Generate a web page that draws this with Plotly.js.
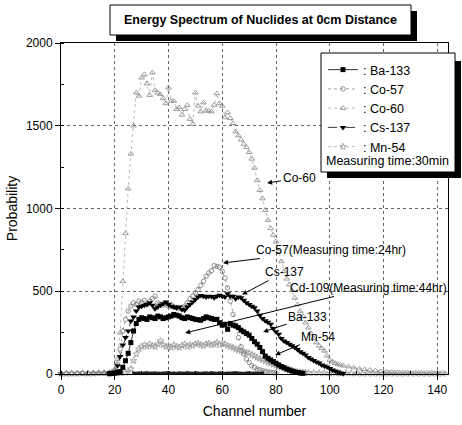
<!DOCTYPE html>
<html>
<head>
<meta charset="utf-8">
<script src="https://cdn.plot.ly/plotly-3.0.1.min.js"></script>
<style>html,body{margin:0;padding:0;background:#fff;}#chart{width:462px;height:425px;}</style>
</head>
<body>
<div id="chart"></div>
<script>
// ---- data (channel number vs probability) ----
const chCo60 = [0,2,4,6,8,10,12,14,16,18,
  19,20,21,22,23,24,25,26,27,28,29,30,31,32,33,34,35,36,37,38,39,40,41,42,43,44,45,46,47,48,49,50,51,52,53,54,55,56,57,58,59,60,61,62,63,64,65,66,67,68,69,70,71,72,73,74,75,76,77,78,79,80,81,82,83,84,85,86,87,88,89,90,91,92,93,94,95,96,97,98,99,100,101,102,103,104,105,
  107,109,111,113,115,117,119,121,123,125,127,129,131,133,135,137,139,141,143];
const co60 = [3,4,2,5,3,4,3,5,6,8,
  12,30,90,250,560,850,1120,1330,1500,1700,
  1680,1790,1810,1755,1685,1820,1715,1700,1690,1665,
  1635,1730,1650,1650,1600,1610,1565,1600,1625,1540,
  1510,1700,1620,1585,1640,1590,1590,1585,1625,1695,
  1635,1620,1550,1580,1545,1515,1465,1440,1415,1390,
  1370,1340,1300,1245,1170,1110,1060,990,930,880,
  840,800,740,680,620,575,540,505,460,420,
  380,350,310,280,245,215,190,170,155,140,
  110,85,75,65,60,55,50,
  45,38,32,28,24,20,16,13,11,9,8,7,6,6,5,5,4,4,4];

const chCo57 = [0,2,4,6,8,10,12,14,16,18,
  19,20,21,22,23,24,25,26,27,28,29,30,31,32,33,34,35,36,37,38,39,40,41,42,43,44,45,46,47,48,49,50,51,52,53,54,55,56,57,58,59,60,61,62,63,64,65,66,67,68,69,70,71,72,73,74,75,76,77,78,79,80];
const co57 = [2,3,2,3,4,3,4,5,6,8,
  10,20,60,150,260,330,380,410,430,420,
  440,430,445,420,440,455,470,430,420,415,
  425,410,420,405,400,395,400,410,430,455,
  470,490,510,535,560,590,610,625,655,650,
  645,620,580,520,440,360,290,220,165,120,
  90,70,50,40,30,25,20,16,13,10,
  8,7];

const chCs137 = [18,19,20,21,22,23,24,25,26,27,28,29,30,31,32,33,34,35,36,37,38,39,40,41,42,43,44,45,46,47,48,49,50,51,52,53,54,55,56,57,58,59,60,61,62,63,64,65,66,67,68,69,70,71,72,73,74,75,76,77,78,79,80,81,82,83,84,85,86,87,88,89,90,91,92,93,94,95,96,97,98,99,100,101,102,103,104,105];
const cs137 = [2,4,10,50,105,175,220,260,320,345,
  380,405,410,415,420,430,415,395,405,415,
  425,435,420,410,405,400,405,390,385,405,
  420,435,450,465,475,470,465,470,468,460,
  470,476,470,465,485,470,470,455,465,460,
  445,430,420,410,400,380,355,335,322,312,
  300,275,255,240,215,200,190,180,170,160,
  148,135,125,115,100,90,82,72,66,55,
  48,42,33,24,18,12,6,3];

const chBa133 = [18,19,20,21,22,23,24,25,26,27,28,29,30,31,32,33,34,35,36,37,38,39,40,41,42,43,44,45,46,47,48,49,50,51,52,53,54,55,56,57,58,59,60,61,62,63,64,65,66,67,68,69,70,71,72,73,74,75,76,77,78,79,80,81,82,83,84,85,86,87,88,89,90];
const ba133 = [2,3,5,8,15,40,80,125,190,260,
  305,330,340,335,330,345,340,335,350,345,
  335,340,345,350,360,355,350,340,335,345,
  340,335,330,328,325,335,345,340,335,330,
  330,310,295,300,270,305,295,290,280,265,
  255,245,235,215,195,180,160,135,108,95,
  85,75,65,55,45,38,30,24,18,13,
  9,6,4];

const chMn54 = [0,2,4,6,8,10,12,14,16,18,20,22,24,
  25,26,27,28,29,30,31,32,33,34,35,36,37,38,39,40,41,42,43,44,45,46,47,48,49,50,51,52,53,54,55,56,57,58,59,60,61,62,63,64,65,66,67,68,69,70,71,72,73,74,75,76,77,78,79,80,81,82,83,84,85,86,87,88,89,90,91,92,
  94,96,98,100,102,104,106,108,110,112,114,116,118,120,122,124,126,128,130,132,134,136,138,140,142];
const mn54 = [3,2,4,3,5,3,4,6,5,4,6,5,8,
  12,30,80,120,150,165,175,165,180,170,
  165,180,200,175,165,170,160,175,165,160,
  170,180,165,175,170,180,185,175,170,180,
  185,175,180,190,175,185,180,170,165,160,
  150,145,140,135,130,125,115,108,100,92,
  85,78,70,64,58,52,46,40,34,28,
  24,20,16,13,11,9,8,7,
  6,6,5,5,5,4,5,4,4,3,4,3,3,4,3,3,2,3,3,2,3,2,2,3,2];

const chCd109 = [27,28,29,30,31,32,33,34,35,36,37,38,39,40,41,42,43,44,45,46,47,48,49,50,51,52,53,54,55,56,57,58,59,60,61,62,63,64,65,66,67,68,69,70,71,72,73,74,75];
const cd109 = [6,5,7,4,6,8,5,6,7,5,4,6,7,8,5,6,4,7,6,5,8,6,5,7,6,4,6,7,5,8,6,5,7,6,4,6,5,7,8,6,5,4,6,7,5,6,5,4,6];

const xTicks = [0,20,40,60,80,100,120,140];
const yTicks = [0,500,1000,1500,2000];

// ---- traces ----
const traces = [
  {x:chMn54, y:mn54, name:': Mn-54', legendrank:5, mode:'lines+markers', cliponaxis:false,
   line:{color:'#aaa', width:0.8, dash:'dot'}, marker:{symbol:'star-open', size:5, color:'#999', line:{width:0.8}}},
  {x:chCo60, y:co60, name:': Co-60', legendrank:3, mode:'lines+markers', cliponaxis:false,
   line:{color:'#aaa', width:0.8, dash:'dot'}, marker:{symbol:'triangle-up-open', size:5, color:'#888', line:{width:0.8}}},
  {x:chCo57, y:co57, name:': Co-57', legendrank:2, mode:'lines+markers', cliponaxis:false,
   line:{color:'#888', width:0.8, dash:'dot'}, marker:{symbol:'circle-open', size:4.5, color:'#777', line:{width:0.8}}},
  {x:chCd109, y:cd109, name:'Cd-109', showlegend:false, mode:'lines+markers', cliponaxis:false,
   line:{color:'#222', width:1.2}, marker:{symbol:'square', size:3, color:'#222'}},
  {x:chBa133, y:ba133, name:': Ba-133', legendrank:1, mode:'lines+markers', cliponaxis:false,
   line:{color:'#000', width:0.8}, marker:{symbol:'square', size:5, color:'#000'}},
  {x:chCs137, y:cs137, name:': Cs-137', legendrank:4, mode:'lines+markers', cliponaxis:false,
   line:{color:'#000', width:0.8, dash:'dash'}, marker:{symbol:'triangle-down', size:6, color:'#000'}}
];

// px -> paper helpers for decoration placement
const L=61, R=448, T=43, B=374;
const px = v => (v-L)/(R-L);
const py = v => (B-v)/(B-T);

const arrow = (text, hx, hy, tx, ty) => ({
  text:text, x:hx, y:hy, ax:tx, ay:ty, xref:'x', yref:'y', axref:'x', ayref:'y',
  showarrow:true, arrowhead:2, arrowsize:1, arrowwidth:1, arrowcolor:'#000', standoff:0,
  font:{size:12, color:'#000'}
});

const layout = {
  width:462, height:425,
  margin:{l:61, r:14, t:43, b:51},
  paper_bgcolor:'#fff', plot_bgcolor:'#fff',
  font:{family:'Liberation Sans, Arial, sans-serif', color:'#000', size:12},
  showlegend:true,
  legend:{x:px(323), y:py(55), xanchor:'left', yanchor:'top', bgcolor:'rgba(0,0,0,0)',
          borderwidth:0, font:{size:12.5, color:'#000'}, itemwidth:30, traceorder:'normal'},
  xaxis:{range:[0,144], tickmode:'array', tickvals:xTicks, ticktext:xTicks.map(String),
         ticks:'outside', ticklen:5, tickwidth:1, tickcolor:'#000',
         showline:true, linecolor:'#000', linewidth:1, mirror:true,
         showgrid:true, gridcolor:'#666', griddash:'dot', gridwidth:1, zeroline:false,
         minor:{dtick:10, tick0:0, ticks:'inside', ticklen:3, tickcolor:'#000', showgrid:false},
         tickfont:{size:12}, automargin:false,
         title:{text:'Channel number', font:{size:14}, standoff:9}},
  yaxis:{range:[0,2000], tickmode:'array', tickvals:yTicks, ticktext:yTicks.map(String),
         ticks:'outside', ticklen:5, tickwidth:1, tickcolor:'#000',
         showline:true, linecolor:'#000', linewidth:1, mirror:true,
         showgrid:true, gridcolor:'#666', griddash:'dot', gridwidth:1, zeroline:false,
         minor:{dtick:250, tick0:0, ticks:'inside', ticklen:3, tickcolor:'#000', showgrid:false},
         tickfont:{size:12}, automargin:false,
         title:{text:'Probability', font:{size:14}, standoff:4}},
  xaxis2:{overlaying:'x', anchor:'y', side:'top', range:[0,144], tickmode:'array', tickvals:xTicks,
          ticks:'inside', ticklen:5, tickcolor:'#000', showticklabels:false, showgrid:false, zeroline:false,
          showline:false, minor:{dtick:10, tick0:0, ticks:'inside', ticklen:3, tickcolor:'#000'}},
  yaxis2:{overlaying:'y', anchor:'x', side:'right', range:[0,2000], tickmode:'array', tickvals:yTicks,
          ticks:'inside', ticklen:5, tickcolor:'#000', showticklabels:false, showgrid:false, zeroline:false,
          showline:false, minor:{dtick:250, tick0:0, ticks:'inside', ticklen:3, tickcolor:'#000'}},
  shapes:[
    // title box shadow + box
    {type:'rect', xref:'paper', yref:'paper', x0:px(116), x1:px(417), y0:py(41), y1:py(11),
     fillcolor:'#000', line:{width:0}, layer:'above'},
    {type:'rect', xref:'paper', yref:'paper', x0:px(110), x1:px(411), y0:py(35), y1:py(5),
     fillcolor:'#fff', line:{color:'#000', width:1}, layer:'above'},
    // legend box shadow + box
    {type:'rect', xref:'paper', yref:'paper', x0:px(327), x1:px(461), y0:py(178), y1:py(61),
     fillcolor:'#000', line:{width:0}, layer:'above'},
    {type:'rect', xref:'paper', yref:'paper', x0:px(321), x1:px(455), y0:py(172), y1:py(53),
     fillcolor:'#fff', line:{color:'#000', width:1}, layer:'above'}
  ],
  annotations:[
    {text:'<b>Energy Spectrum of Nuclides at 0cm Distance</b>', xref:'paper', yref:'paper',
     x:px(260), y:py(20), showarrow:false, font:{size:12.5, color:'#000'}, xanchor:'center', yanchor:'middle'},
    {text:'Measuring time:30min', xref:'paper', yref:'paper', x:px(324), y:py(161),
     showarrow:false, xanchor:'left', yanchor:'middle', font:{size:12.5, color:'#000'}},
    arrow('Co-60', 76.7, 1154, 88.6, 1184),
    arrow('Co-57(Measuring time:24hr)', 60.3, 671, 100.5, 749),
    arrow('Cs-137', 67.4, 480, 83.2, 616),
    arrow('Cd-109(Measuring time:44hr)', 46.2, 248, 114.5, 520),
    arrow('Ba-133', 75.2, 254, 91.8, 344),
    arrow('Mn-54', 79.7, 115, 95.8, 224)
  ]
};

Plotly.newPlot('chart', traces, layout, {displayModeBar:false, staticPlot:true});
</script>
</body>
</html>
